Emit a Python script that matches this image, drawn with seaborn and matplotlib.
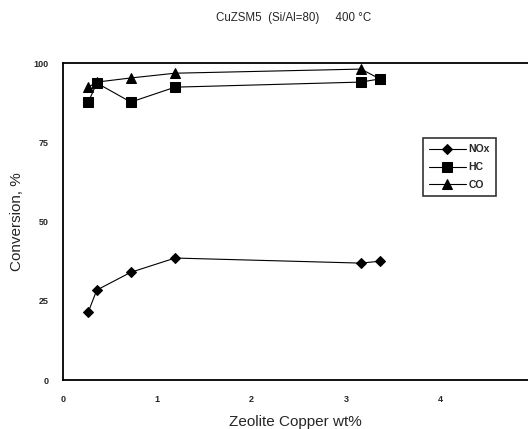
import matplotlib
matplotlib.use("Agg")
import matplotlib.pyplot as plt
import seaborn as sns
import pandas as pd

copper = [0.27, 0.36, 0.72, 1.19, 3.16, 3.36]
nox = [21.5, 28.4, 34.0, 38.5, 36.9, 37.5]
hc = [87.7, 93.7, 87.7, 92.4, 94.0, 95.0]
co = [92.4, 94.0, 95.3, 96.8, 98.1, 95.0]
series = ["NOx", "HC", "CO"]
markers = {"NOx": "D", "HC": "s", "CO": "^"}
xticks = [0, 1, 2, 3, 4]
yticks = [0, 25, 50, 75, 100]

df = pd.concat([
    pd.DataFrame({"x": copper, "y": nox, "s": "NOx"}),
    pd.DataFrame({"x": copper, "y": hc, "s": "HC"}),
    pd.DataFrame({"x": copper, "y": co, "s": "CO"}),
])

sns.set_style("white")
plt.rcParams["font.family"] = ["Liberation Sans", "DejaVu Sans"]

fig = plt.figure(figsize=(5.28, 4.29), dpi=100)
ax = fig.add_axes([0.119, 0.114, 0.881, 0.739])

for name in series:
    sub = df[df["s"] == name]
    sns.lineplot(data=sub, x="x", y="y", ax=ax, color="black", linewidth=0.8,
                 marker=markers[name], markersize=6.5 if name != "NOx" else 5.5,
                 markeredgecolor="black", markerfacecolor="black", label=name,
                 estimator=None, sort=False)

ax.set_xlim(0, 4.93)
ax.set_ylim(0, 100)
ax.set_xticks(xticks)
ax.set_yticks(yticks)
ax.set_xticklabels([str(v) for v in xticks], fontsize=6.5, fontweight="bold")
ax.set_yticklabels([str(v) for v in yticks], fontsize=6.5, fontweight="bold")
ax.tick_params(axis="both", direction="in", length=4, width=1, color="black")
ax.tick_params(axis="x", pad=11)
ax.tick_params(axis="y", pad=10)
for sp in ["left", "bottom", "top"]:
    ax.spines[sp].set_color("black")
    ax.spines[sp].set_linewidth(1.3)
ax.spines["right"].set_visible(False)

ax.set_xlabel("Zeolite Copper wt%", fontsize=11, labelpad=8)
ax.set_ylabel("Conversion, %", fontsize=11, labelpad=7)
fig.text(0.557, 0.958, "CuZSM5  (Si/Al=80)     400 °C", fontsize=8.3, ha="center", va="center")

leg = ax.legend(loc="upper left", bbox_to_anchor=(0.774, 0.763), frameon=True,
                fancybox=False, edgecolor="black",
                prop={"weight": "bold", "size": 7.5}, handlelength=3.5,
                borderpad=0.6, labelspacing=0.75, handletextpad=0.3,
                borderaxespad=0)
leg.get_frame().set_linewidth(1.2)

fig.savefig("out.png", dpi=100)
